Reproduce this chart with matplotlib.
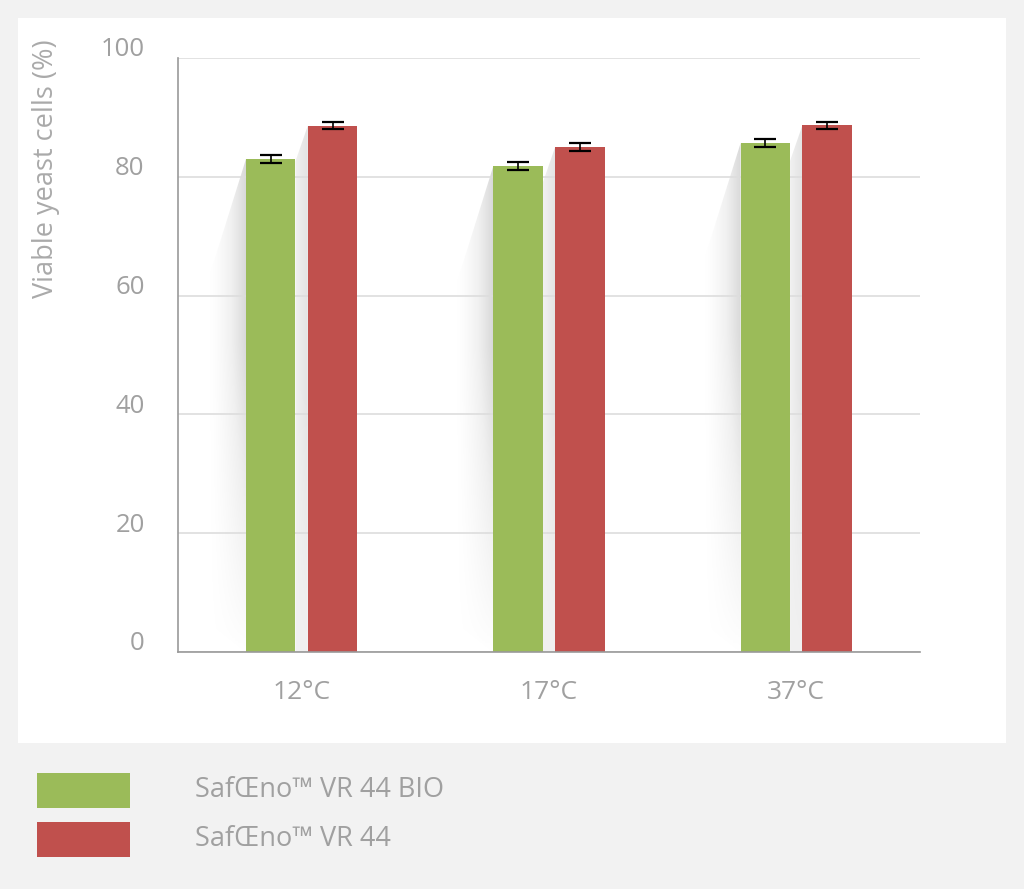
import numpy as np
import matplotlib.pyplot as plt
import matplotlib.transforms as mtransforms
from matplotlib.patches import Rectangle, Polygon

plt.rcParams['font.family'] = ['Open Sans', 'DejaVu Sans']

# data
temps = ['12°C', '17°C', '37°C']
bio = [83.0, 81.8, 85.7]
bio_err = [0.65, 0.65, 0.65]
vr44 = [88.6, 85.0, 88.7]
vr44_err = [0.6, 0.65, 0.6]
series_names = ['SafŒno™ VR 44 BIO', 'SafŒno™ VR 44']

green = '#9bbb59'
red = '#c0504d'
txt = '#a0a0a0'

fig = plt.figure(figsize=(10.24, 8.89), dpi=100)
fig.patch.set_facecolor('#f2f2f2')

# white panel behind chart
fig.patches.append(Rectangle((0.0176, 0.1642), 0.9648, 0.8155, transform=fig.transFigure,
                             facecolor='white', edgecolor='none', zorder=-5))

ax = fig.add_axes([0.1738, 0.2666, 0.7246, 0.6682])
ax.set_facecolor('none')
ax.set_zorder(2)

x = np.arange(len(temps))
w = 0.2
off = 0.125

# soft shadows behind bars (under the grid lines)
grad = np.linspace(0, 1, 200)
gx, gy = np.meshgrid(grad, grad)
shade = 0.26 * gx ** 1.4 * np.clip(gy * 1.6, 0, 1) ** 0.8
for i in range(len(temps)):
    gl = x[i] - off - w / 2
    top = bio[i]
    poly = Polygon([(gl, top), (gl - 0.15, top - 20), (gl - 0.15, 5), (gl, 0)],
                   closed=True, transform=ax.transData, facecolor='none', edgecolor='none')
    ax.add_patch(poly)
    img = ax.imshow(shade, extent=(gl - 0.15, gl, 0, top), origin='lower',
                    cmap='Greys', vmin=0, vmax=1, aspect='auto', zorder=0.1, interpolation='bilinear')
    img.set_clip_path(poly)

    rl = x[i] + off - w / 2
    gr = x[i] - off + w / 2
    poly2 = Polygon([(rl, vr44[i]), (gr, vr44[i] - 6), (gr, 0), (rl, 0)],
                    closed=True, transform=ax.transData, facecolor='none', edgecolor='none')
    ax.add_patch(poly2)
    img2 = ax.imshow(0.12 + 0.08 * gx * np.clip(gy * 2, 0, 1), extent=(gr, rl, 0, vr44[i]),
                     origin='lower', cmap='Greys', vmin=0, vmax=1, aspect='auto', zorder=0.1)
    img2.set_clip_path(poly2)

ax.bar(x - off, bio, w, color=green, zorder=3)
ax.bar(x + off, vr44, w, color=red, zorder=3)
ax.errorbar(x - off, bio, yerr=bio_err, fmt='none', ecolor='black', elinewidth=1.2,
            capsize=8, capthick=1.6, zorder=4)
ax.errorbar(x + off, vr44, yerr=vr44_err, fmt='none', ecolor='black', elinewidth=1.2,
            capsize=8, capthick=1.6, zorder=4)

ax.set_xlim(-0.5, 2.5)
ax.set_ylim(0, 100)
ax.set_yticks([0, 20, 40, 60, 80, 100])
ax.set_xticks(x)
ax.set_xticklabels(temps)
ax.yaxis.grid(True, color='#dddddd', linewidth=1.2)
ax.set_axisbelow(True)

for s in ['top', 'right']:
    ax.spines[s].set_visible(False)
for s in ['left', 'bottom']:
    ax.spines[s].set_color('#999999')
    ax.spines[s].set_linewidth(1.2)
    ax.spines[s].set_zorder(5)

ax.tick_params(axis='y', length=0, pad=24, labelsize=18.5, labelcolor=txt)
ax.tick_params(axis='x', length=0, pad=20, labelsize=19, labelcolor=txt)

# y labels sit a bit above their grid lines
shift = mtransforms.ScaledTranslation(0, 0.11, fig.dpi_scale_trans)
for lab in ax.get_yticklabels():
    lab.set_transform(lab.get_transform() + shift)

ax.set_ylabel('Viable yeast cells (%)', fontsize=19.5, color='#aaaaaa', va='center')
ax.yaxis.set_label_coords(-0.178, 0.813)

# legend under the chart
colors = [green, red]
ys = [0.0911, 0.036]
for c, yb, name in zip(colors, ys, series_names):
    fig.patches.append(Rectangle((0.0361, yb), 0.0909, 0.0394, transform=fig.transFigure,
                                 facecolor=c, edgecolor='none'))
    fig.text(0.1904, yb + 0.0197, name, fontsize=19.5, color=txt, va='center', ha='left')

plt.savefig('out.png', dpi=100, facecolor=fig.get_facecolor())
